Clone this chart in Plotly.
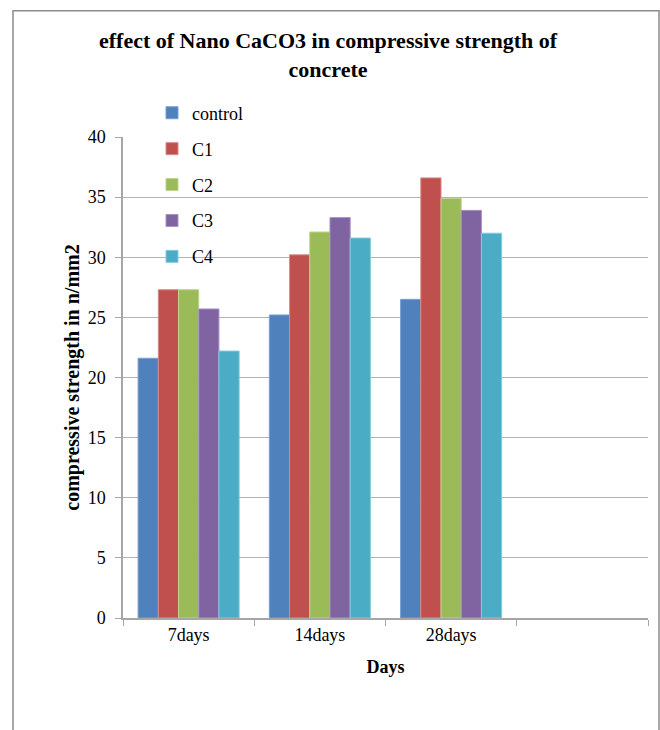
import plotly.graph_objects as go

# Compressive strength (N/mm2) by curing age
days = ["7days", "14days", "28days", " "]
control = [21.6, 25.2, 26.5, None]
c1 = [27.3, 30.2, 36.6, None]
c2 = [27.3, 32.1, 34.9, None]
c3 = [25.7, 33.3, 33.9, None]
c4 = [22.2, 31.6, 32.0, None]

series = [
    ("control", control, "#4F81BD", "#7A9FD0"),
    ("C1", c1, "#C0504D", "#D98A88"),
    ("C2", c2, "#9BBB59", "#BDD48E"),
    ("C3", c3, "#8064A2", "#A794C1"),
    ("C4", c4, "#4BACC6", "#86CBDD"),
]

serif = "Liberation Serif, Times New Roman, serif"

fig = go.Figure()
for i, (name, vals, fill, edge) in enumerate(series):
    fig.add_trace(go.Bar(
        name=name, x=days, y=vals,
        marker=dict(color=fill, line=dict(color=edge, width=1)),
        legendgroup=f"g{i}",
    ))

W, H = 660, 730
L, R, T, B = 123, 12, 136.5, 112
pw, ph = W - L - R, H - T - B

def px_x(x):
    return (x - L) / pw

def px_y(y):
    return (H - B - y) / ph

fig.update_layout(
    width=W, height=H,
    margin=dict(l=L, r=R, t=T, b=B, pad=0),
    paper_bgcolor="white", plot_bgcolor="white",
    barmode="group", bargap=0.23, bargroupgap=0,
    font=dict(family=serif, size=18, color="black"),
    title=dict(
        text="<b>effect of Nano CaCO3 in compressive strength of<br>concrete</b>",
        x=328 / W, xanchor="center", y=1 - 48 / H, yanchor="middle",
        font=dict(family=serif, size=22, color="black"),
    ),
    legend=dict(
        x=px_x(152), xanchor="left", y=px_y(94), yanchor="top",
        bgcolor="rgba(0,0,0,0)", font=dict(family=serif, size=18),
        tracegroupgap=9.5, itemclick=False,
    ),
    showlegend=True,
    xaxis=dict(
        type="category", categoryorder="array", categoryarray=days,
        range=[-0.5, 3.5], tickson="boundaries", ticks="outside", ticklen=6,
        tickcolor="#A6A6A6", showline=True, linecolor="#A6A6A6", linewidth=1.5,
        showgrid=False, tickfont=dict(family=serif, size=18),
        title=dict(text="<b>Days</b>", font=dict(family=serif, size=18), standoff=16),
    ),
    yaxis=dict(
        range=[0, 40], dtick=5, ticks="outside", ticklen=6, tickcolor="#A6A6A6",
        showline=True, linecolor="#A6A6A6", linewidth=1.5,
        showgrid=True, gridcolor="#B3B3B3", gridwidth=1.2, zeroline=False,
        tickfont=dict(family=serif, size=18), ticklabelstandoff=6,
        title=dict(text="<b>compressive strength in n/mm2</b>",
                   font=dict(family=serif, size=20), standoff=3),
    ),
    shapes=[dict(
        type="rect", xref="paper", yref="paper",
        x0=px_x(13), x1=px_x(659), y0=px_y(740), y1=px_y(10),
        line=dict(color="#8C8C8C", width=1.5), layer="below",
    )],
)

fig.write_html("out.html")
